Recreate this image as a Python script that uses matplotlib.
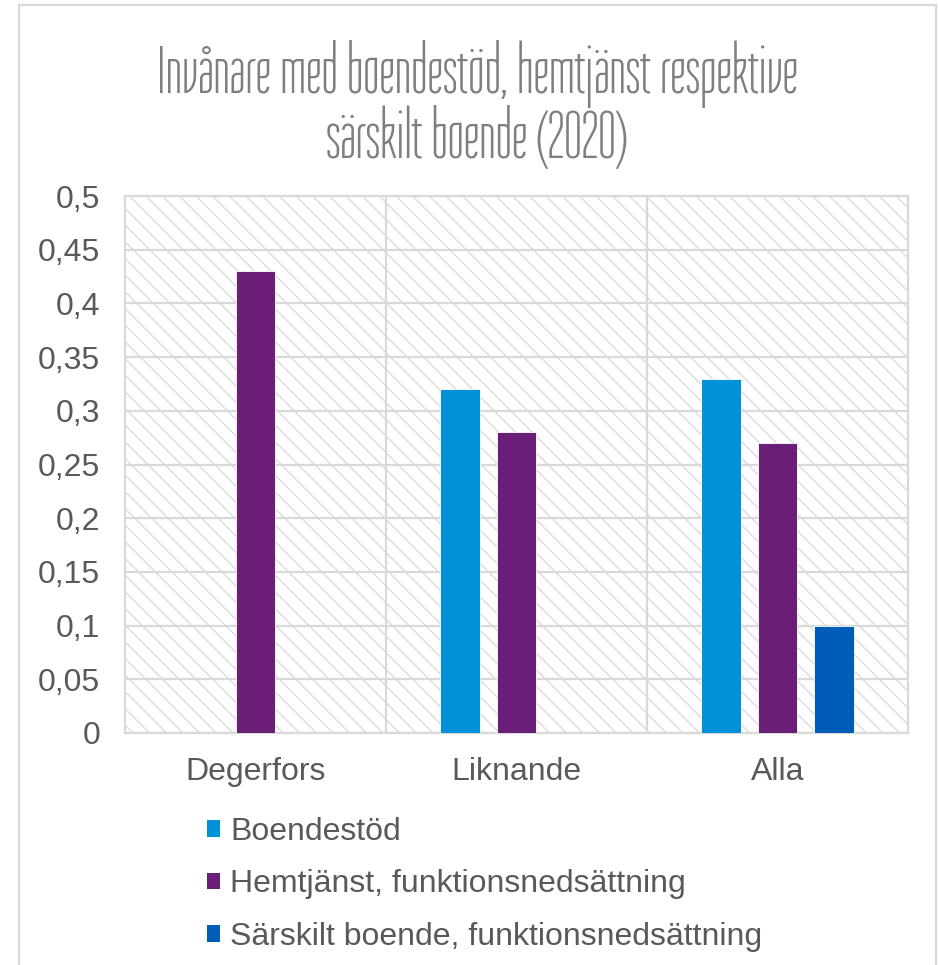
import matplotlib
matplotlib.use("Agg")
import matplotlib.pyplot as plt
import numpy as np
from matplotlib.patches import Rectangle, Patch

# data
categories = ["Degerfors", "Liknande", "Alla"]
series_names = ["Boendestöd", "Hemtjänst, funktionsnedsättning",
                "Särskilt boende, funktionsnedsättning"]
boendestod = [np.nan, 0.32, 0.33]
hemtjanst = [0.43, 0.28, 0.27]
sarskilt = [np.nan, np.nan, 0.10]
yticks = [0, 0.05, 0.1, 0.15, 0.2, 0.25, 0.3, 0.35, 0.4, 0.45, 0.5]
title_lines = ["Invånare med boendestöd, hemtjänst respektive",
               "särskilt boende (2020)"]

colors = ["#0091d6", "#6b1e78", "#005cb9"]
grid_c = "#d9d9d9"
text_c = "#595959"

plt.rcParams["font.family"] = ["Liberation Sans", "DejaVu Sans"]
plt.rcParams["hatch.linewidth"] = 0.9

fig = plt.figure(figsize=(9.38, 9.65), dpi=100)
fig.patch.set_facecolor("white")

# chart frame
fig.patches.append(Rectangle((18.5 / 938, -0.05), (936 - 18.5) / 938, 1.05 - 4.5 / 965,
                             transform=fig.transFigure, facecolor="none",
                             edgecolor=grid_c, lw=1.6, zorder=0))

ax = fig.add_axes([125 / 938, 1 - 733 / 965, (908 - 125) / 938, (733 - 196) / 965])
ax.set_xlim(-0.5, 2.5)
ax.set_ylim(0, 0.5)

# hatched plot area
ax.add_patch(Rectangle((0, 0), 1, 1, transform=ax.transAxes, facecolor="white",
                       edgecolor="#d8d8d8", lw=0, hatch="\\\\", zorder=0))

x = np.arange(len(categories))
width = 0.153
offset = 0.218
for i, (vals, c) in enumerate(zip([boendestod, hemtjanst, sarskilt], colors)):
    ax.bar(x + (i - 1) * offset, vals, width, color=c, edgecolor="white",
           linewidth=0.6, zorder=3)

ax.set_yticks(yticks)
ax.set_yticklabels([f"{v:g}".replace(".", ",") for v in yticks])
ax.set_xticks(x)
ax.set_xticklabels(categories)
ax.set_xticks([0.5, 1.5], minor=True)
ax.tick_params(axis="both", which="both", length=0, labelsize=23, colors=text_c)
ax.tick_params(axis="x", pad=17)
ax.tick_params(axis="y", pad=18)

ax.grid(axis="y", color=grid_c, lw=1.6, zorder=1)
ax.grid(axis="x", which="minor", color=grid_c, lw=1.6, zorder=1)
ax.set_axisbelow(True)
for s in ax.spines.values():
    s.set_color(grid_c)
    s.set_linewidth(1.6)

# two-line title in a narrow face
for line, yb in zip(title_lines, [93, 158]):
    fig.text(477 / 938, 1 - yb / 965, line, ha="center", va="baseline",
             fontsize=50, color="#7f7f7f",
             family=["Tulpen One", "DejaVu Sans"])

handles = [Patch(facecolor=c, edgecolor="none") for c in colors]
fig.legend(handles, series_names, loc="upper left",
           bbox_to_anchor=(207 / 938, 1 - 817 / 965), frameon=False,
           fontsize=23, labelcolor=text_c, handlelength=0.42, handleheight=0.42,
           handletextpad=0.3, labelspacing=0.7, borderaxespad=0, borderpad=0)

fig.savefig("out.png", dpi=100, facecolor="white")
